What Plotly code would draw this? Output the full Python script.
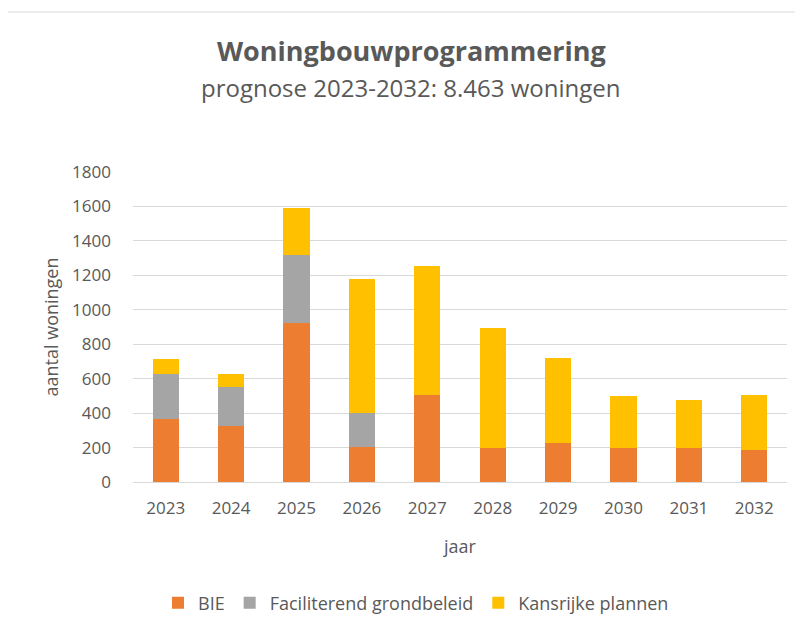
import plotly.graph_objects as go

years = ["2023", "2024", "2025", "2026", "2027", "2028", "2029", "2030", "2031", "2032"]
bie = [368, 328, 923, 206, 508, 196, 225, 196, 196, 186]
faciliterend = [262, 221, 394, 192, 0, 0, 0, 0, 0, 0]
kansrijk = [82, 81, 274, 779, 749, 700, 497, 302, 280, 318]
y_ticks = [0, 200, 400, 600, 800, 1000, 1200, 1400, 1600, 1800]

FONT = "Open Sans"
TXT = "#595959"

L, R, T, B = 125, 24, 164, 154
W, H = 803, 628
PW, PH = W - L - R, H - T - B


def px_to_paper_x(x):
    return (x - L) / PW


def px_to_paper_y(y):
    return (H - B - y) / PH


fig = go.Figure()
fig.add_trace(go.Bar(name="BIE", x=years, y=bie, marker=dict(color="#ED7D31", line=dict(width=0))))
fig.add_trace(go.Bar(name="Faciliterend grondbeleid", x=years, y=faciliterend, marker=dict(color="#A5A5A5", line=dict(width=0))))
fig.add_trace(go.Bar(name="Kansrijke plannen", x=years, y=kansrijk, marker=dict(color="#FFC000", line=dict(width=0))))

fig.update_layout(
    barmode="stack",
    bargap=0.6,
    width=W, height=H,
    margin=dict(l=L, r=R, t=T, b=B),
    paper_bgcolor="white", plot_bgcolor="white",
    font=dict(family=FONT, color=TXT, size=17),
    xaxis=dict(
        showgrid=False, showline=True, linecolor="#D9D9D9", linewidth=1,
        tickfont=dict(size=17, color=TXT), ticklabelstandoff=11,
        title=dict(text="jaar", font=dict(size=18, color=TXT), standoff=21),
    ),
    yaxis=dict(
        range=[0, 1800], tickvals=y_ticks, showgrid=True, gridcolor="#D9D9D9", gridwidth=1,
        zeroline=False, showline=False,
        tickfont=dict(size=17, color=TXT), ticklabelstandoff=21,
        title=dict(text="aantal woningen", font=dict(size=18, color=TXT), standoff=8),
    ),
    legend=dict(
        orientation="h", xref="container", x=150 / W, xanchor="left",
        yref="container", y=1 - 595 / H, yanchor="middle",
        font=dict(size=18, color=TXT), traceorder="normal", itemwidth=30,
    ),
    annotations=[
        dict(text="<b>Woningbouwprogrammering</b>", xref="paper", yref="paper",
             x=px_to_paper_x(403), y=px_to_paper_y(42), xanchor="center", yanchor="middle",
             showarrow=False, font=dict(size=27, color=TXT, family=FONT)),
        dict(text="prognose 2023-2032: 8.463 woningen", xref="paper", yref="paper",
             x=px_to_paper_x(403), y=px_to_paper_y(80), xanchor="center", yanchor="middle",
             showarrow=False, font=dict(size=24, color=TXT, family=FONT)),
    ],
    shapes=[
        dict(type="line", xref="paper", yref="paper", x0=px_to_paper_x(0), x1=px_to_paper_x(W),
             y0=px_to_paper_y(4), y1=px_to_paper_y(4), line=dict(color="#D9D9D9", width=1)),
    ],
)

fig.write_html("out.html")
